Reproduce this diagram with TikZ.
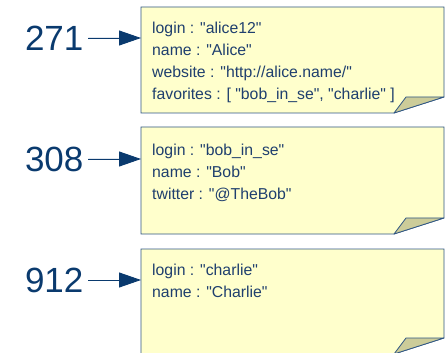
\documentclass[tikz,border=0pt]{standalone}
\usepackage{fontspec}
\setmainfont{Liberation Sans}[Ligatures=TeXOff]
\usetikzlibrary{arrows.meta}
\definecolor{notefill}{HTML}{FFFFCC}
\definecolor{foldfill}{HTML}{CCCC99}
\definecolor{noteline}{HTML}{2E5584}
\definecolor{textcol}{HTML}{1F3F6E}
\definecolor{numcol}{HTML}{0A3A6E}
\tikzset{
	note/.style={draw=noteline, fill=notefill, line width=0.8pt},
	fold/.style={draw=noteline, fill=foldfill, line width=0.8pt, line join=round},
	num/.style={anchor=west, inner sep=0pt, outer sep=5pt, text=numcol, font=\fontsize{35}{35}\selectfont},
	fields/.style={anchor=north west, inner sep=0pt, align=left, text=textcol, font=\fontsize{15.8}{22}\selectfont},
	ptr/.style={-{Triangle[length=22pt,width=15pt]}, draw=numcol, fill=numcol, line width=0.9pt},
}
\begin{document}
\begin{tikzpicture}[x=1pt,y=-1pt]
	\useasboundingbox (0,0) rectangle (448,353);
	
	\path[note] (141,7) -- (444,7) -- (444,97) -- (394,113) -- (141,113) -- cycle;
	\path[fold] (394,113) -- (406,97) -- (444,97) -- cycle;
	\path[note] (141,127) -- (444,127) -- (444,218) -- (394,234) -- (141,234) -- cycle;
	\path[fold] (394,234) -- (406,218) -- (444,218) -- cycle;
	\path[note] (141,249) -- (444,249) -- (444,338) -- (394,354) -- (141,354) -- cycle;
	\path[fold] (394,354) -- (406,338) -- (444,338) -- cycle;
	
	\node (alice) at (152,22) [fields] {login : "alice12"\\ name : "Alice"\\ website : "http://alice.name/"\\ favorites : [ "bob\_in\_se", "charlie" ]};
	\node (bob) at (152,144) [fields] {login : "bob\_in\_se"\\ name : "Bob"\\ twitter : "@TheBob"};
	\node (charlie) at (152,264) [fields] {login : "charlie"\\ name : "Charlie"};
	
	\node (N1) at (20,38) [num] {271};
	\node (N2) at (20,159) [num] {308};
	\node (N3) at (20,280) [num] {912};
	\coordinate (B1) at (141,38);
	\coordinate (B2) at (141,159);
	\coordinate (B3) at (141,280);
	
	\draw [ptr] (N1) -- (B1);
	\draw [ptr] (N2) -- (B2);
	\draw [ptr] (N3) -- (B3);
\end{tikzpicture}
\end{document}
